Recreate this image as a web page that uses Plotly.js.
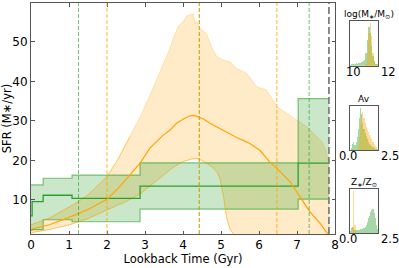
<!DOCTYPE html>
<html><head><meta charset="utf-8">
<script src="https://cdn.plot.ly/plotly-3.0.1.min.js"></script>
<style>html,body{margin:0;padding:0;background:#fff}#c{width:399px;height:268px}</style>
</head><body><div id="c"></div>
<script>
// ---- SFH data (orange model: smooth) ----
const orangeMedX = [0,0.5,1.0,1.5,2.0,2.3,2.6,2.87,3.13,3.48,3.66,3.83,4.0,4.18,4.3,4.4,4.55,4.71,4.9,5.06,5.24,5.41,5.6,5.76,6.03,6.29,6.47,6.65,6.82,7.08,7.34,7.61,7.78,7.84];
const orangeMedY = [2.6,3.8,5.6,7.6,10.2,13.0,16.3,19.3,23.1,26.4,27.7,29.4,30.4,31.3,31.4,31.0,30.4,29.4,28.4,27.5,26.5,25.8,25.0,24.3,22.5,19.5,18.0,16.3,14.6,10.8,7.0,4.1,1.6,1.0];
const orangeUpX = [0,0.5,1.0,1.25,1.5,2.0,2.3,2.6,2.87,3.13,3.22,3.48,3.62,3.75,3.88,4.0,4.1,4.18,4.27,4.32,4.36,4.45,4.62,4.75,4.89,5.06,5.24,5.41,5.68,5.94,6.2,6.47,6.73,6.99,7.26,7.52,7.65,7.75,7.84];
const orangeUpY = [3.7,5.5,8.2,9.6,11.3,15.9,20.5,26.0,31.0,36.5,38.5,44.5,47.5,51.0,54.0,55.0,56.5,56.8,57.1,54.6,55.2,53.4,52.0,48.7,46.2,45.4,44.9,43.3,42.0,38.6,37.8,33.6,31.9,30.2,28.5,26.0,24.8,22.8,19.3];
const orangeLoX = [0,0.5,1.0,1.5,2.0,2.5,2.87,3.13,3.48,3.75,4.0,4.2,4.36,4.5,4.62,4.75,4.89,4.97,5.06,5.15,5.24,5.35,5.5,6.5,7.84];
const orangeLoY = [1.7,2.6,3.7,5.3,7.5,9.6,11.5,13.5,16.3,18.3,19.7,20.3,20.5,20.0,19.3,18.5,17.2,15.5,11.3,5.4,2.5,1.2,0.8,0.6,0.5];
// ---- SFH data (green model: binned) ----
const greenEdges = [0,0.03,0.32,1.08,2.87,7.03,7.84];
const greenMed   = [6.0,9.6,11.2,10.4,13.5,19.3];
const greenUp    = [13.8,13.8,15.5,16.3,19.4,35.6];
const greenLo    = [2.3,2.5,5.0,4.5,7.7,10.2];
// ---- vertical markers (Gyr) ----
const greenVLines = [1.25,4.43,7.32];
const orangeVLines = [2.0,4.43,6.47];
const grayVLine = 7.84;
const xTicks = [0,1,2,3,4,5,6,7,8];
const yTicks = [10,20,30,40,50];
// ---- posterior histograms ----
const massBins = [10.05,10.15,10.25,10.35,10.45,10.55,10.65,10.75,10.85,10.95,11.05,11.15,11.25,11.35,11.45,11.55,11.65,11.75,11.85,11.95];
const massGreen = [0.02,0.03,0.05,0.03,0.06,0.05,0.07,0.06,0.08,0.10,0.14,0.30,0.60,0.90,0.75,0.45,0.22,0.10,0.05,0.03];
const massOrange = [0,0,0,0,0,0,0,0,0,0,0,0.04,0.30,0.75,1.00,0.70,0.30,0.10,0.03,0];
const avBins = [0.05,0.15,0.25,0.35,0.45,0.55,0.65,0.75,0.85,0.95,1.05,1.15,1.25,1.35,1.45,1.55,1.65,1.75,1.85,1.95,2.05,2.15,2.25,2.35,2.45];
const avGreen = [0,0.05,0.15,0.20,0.12,0.20,0.30,0.50,0.75,1.00,0.85,0.65,0.50,0.40,0.32,0.25,0.20,0.15,0.12,0.10,0.07,0.05,0.03,0.02,0.01];
const avOrange = [0,0,0,0,0,0,0,0.10,0.30,0.60,0.85,0.90,0.75,0.65,0.55,0.48,0.42,0.35,0.30,0.25,0.20,0.14,0.10,0.06,0.03];
const zBins = avBins;
const zGreen = [0.05,0.12,0.15,0.12,0.08,0.07,0.08,0.07,0.08,0.10,0.09,0.10,0.12,0.15,0.20,0.27,0.35,0.42,0.50,0.55,0.57,0.48,0.35,0.20,0.10];
const zOrange = [0,0,0.15,1.00,0.20,0,0,0,0,0,0,0,0,0,0,0,0,0,0,0,0,0,0,0,0];

const W=399,H=268;
const px=p=>p/W, py=p=>1-p/H;
const FONT='DejaVu Sans';
const ORANGE='#ffa500', GREEN='#2ca02c';

function stepXY(edges, vals){
  const x=[],y=[];
  for(let i=0;i<vals.length;i++){x.push(edges[i],edges[i+1]);y.push(vals[i],vals[i]);}
  return {x,y};
}
const gU=stepXY(greenEdges,greenUp), gL=stepXY(greenEdges,greenLo), gM=stepXY(greenEdges,greenMed);

const traces=[
  {x:orangeUpX.concat(orangeLoX.slice().reverse()), y:orangeUpY.concat(orangeLoY.slice().reverse()),
   fill:'toself', fillcolor:'rgba(255,165,0,0.22)', line:{color:'rgba(255,165,0,0.25)',width:1}, mode:'lines', hoverinfo:'skip'},
  {x:gU.x.concat(gL.x.slice().reverse()), y:gU.y.concat(gL.y.slice().reverse()),
   fill:'toself', fillcolor:'rgba(44,160,44,0.25)', line:{width:0}, mode:'lines', hoverinfo:'skip'},
  {x:gU.x,y:gU.y,mode:'lines',line:{color:'rgba(44,160,44,0.6)',width:1.2}},
  {x:gL.x,y:gL.y,mode:'lines',line:{color:'rgba(44,160,44,0.6)',width:1.2}},
  {x:orangeLoX,y:orangeLoY,mode:'lines',line:{color:'rgba(255,165,0,0.45)',width:1}},
  {x:orangeUpX.slice(0,8),y:orangeUpY.slice(0,8),mode:'lines',line:{color:'rgba(255,165,0,0.45)',width:1}},
  {x:gM.x,y:gM.y,mode:'lines',line:{color:GREEN,width:1.3}},
  {x:orangeMedX,y:orangeMedY,mode:'lines',line:{color:ORANGE,width:1.2}},
];
function hist(xa,ya,bins,vals,col){
  return {type:'bar',x:bins,y:vals,xaxis:xa,yaxis:ya,marker:{color:col,line:{width:0}},width:0.1,hoverinfo:'skip'};
}
const HG='rgba(44,160,44,0.42)', HO='rgba(255,165,0,0.42)';
traces.push(hist('x2','y2',massBins,massGreen,HG));
traces.push(hist('x2','y2',massBins,massOrange,HO));
traces.push(hist('x3','y3',avBins,avGreen,HG));
traces.push(hist('x3','y3',avBins,avOrange,HO));
traces.push(hist('x4','y4',zBins,zGreen,HG));
traces.push(hist('x4','y4',zBins,zOrange,HO));

const shapes=[];
greenVLines.forEach(v=>shapes.push({type:'line',xref:'x',yref:'y domain',x0:v,x1:v,y0:0,y1:1,line:{color:'rgba(44,160,44,0.65)',width:1,dash:'4px,2px'}}));
orangeVLines.forEach(v=>shapes.push({type:'line',xref:'x',yref:'y domain',x0:v,x1:v,y0:0,y1:1,line:{color:'rgba(255,165,0,0.8)',width:1,dash:'4px,2px'}}));
shapes.push({type:'line',xref:'x',yref:'y domain',x0:grayVLine,x1:grayVLine,y0:0,y1:1,line:{color:'#808080',width:1.8,dash:'7px,3px'}});

const AX='#555';
const insetX=[px(350),px(378)];
function insetAxes(range,dom){
  return [{domain:insetX,range:range,showline:true,mirror:true,linecolor:AX,linewidth:1,ticks:'',showticklabels:false,showgrid:false,zeroline:false,fixedrange:true},
          {domain:dom,range:[0,1.04],showline:true,mirror:true,linecolor:AX,linewidth:1,ticks:'',showticklabels:false,showgrid:false,zeroline:false,fixedrange:true}];
}
const [x2,y2]=insetAxes([10,12],[py(65.7),py(21)]);
const [x3,y3]=insetAxes([0,2.5],[py(150),py(106)]);
const [x4,y4]=insetAxes([0,2.5],[py(233.3),py(189.3)]);
x3.anchor='y3';y3.anchor='x3';x2.anchor='y2';y2.anchor='x2';x4.anchor='y4';y4.anchor='x4';

const ann=[];
function lab(text,x,y,size){ann.push({text:text,xref:'paper',yref:'paper',x:px(x),y:py(y),xanchor:'center',yanchor:'middle',showarrow:false,font:{family:FONT,size:size,color:'#000'}});}
lab('log(M<sub>∗</sub>/M<sub>⊙</sub>)',369,14,9);
lab('Av',364,99,9);
lab('Z<sub>∗</sub>/Z<sub>⊙</sub>',364,182.7,9);
lab('10',353.5,71.7,11.5); lab('12',388.5,71.7,11.5);
lab('0.0',347.5,156,11.5); lab('2.5',390,156,11.5);
lab('0.0',347.5,239,11.5); lab('2.5',390,239,11.5);

const layout={
  width:W,height:H,margin:{l:0,r:0,t:0,b:0},paper_bgcolor:'#fff',plot_bgcolor:'rgba(0,0,0,0)',
  showlegend:false,barmode:'overlay',bargap:0,
  font:{family:FONT,color:'#000'},
  xaxis:{domain:[px(31),px(335)],range:[0,8],tickvals:xTicks,ticks:'inside',ticklen:3.5,tickcolor:AX,showline:true,mirror:'ticks',linecolor:AX,linewidth:1,
         showgrid:false,zeroline:false,tickfont:{size:12},ticklabelstandoff:0,
         title:{text:'Lookback Time (Gyr)',font:{size:11.5},standoff:1},anchor:'y'},
  yaxis:{domain:[py(234),py(3)],range:[1.4,59.8],tickvals:yTicks,ticks:'inside',ticklen:3.5,tickcolor:AX,showline:true,mirror:'ticks',linecolor:AX,linewidth:1,
         showgrid:false,zeroline:false,tickfont:{size:12},
         title:{text:'SFR (M∗/yr)',font:{size:11.5},standoff:3},anchor:'x'},
  xaxis2:x2,yaxis2:y2,xaxis3:x3,yaxis3:y3,xaxis4:x4,yaxis4:y4,
  shapes:shapes,annotations:ann
};
Plotly.newPlot('c',traces,layout,{staticPlot:true,displayModeBar:false});
</script></body></html>
